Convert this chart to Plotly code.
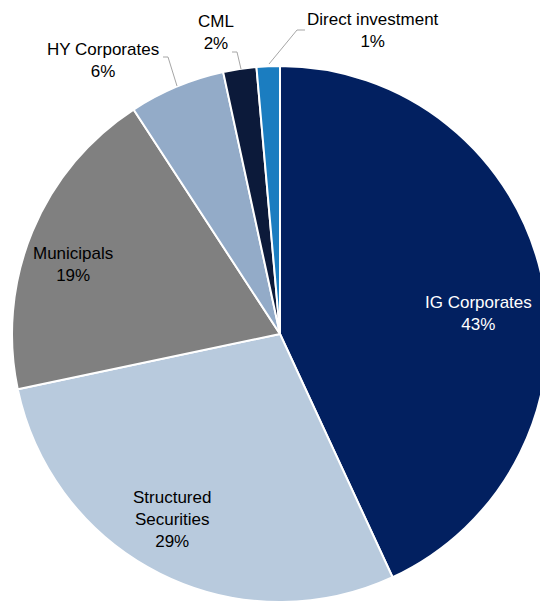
import plotly.graph_objects as go

labels = ["IG Corporates", "Structured Securities", "Municipals", "HY Corporates", "CML", "Direct investment"]
values = [43.1, 28.6, 19.1, 5.8, 2.0, 1.4]
label_lines = ["IG Corporates", "Structured<br>Securities", "Municipals", "HY Corporates", "CML", "Direct investment"]
pct_text = ["43%", "29%", "19%", "6%", "2%", "1%"]
colors = ["#022060", "#b8cadd", "#808080", "#93abc8", "#0c1a3a", "#1b7dc0"]
text_colors = ["white", "black", "black", "black", "black", "black"]

font = "Liberation Sans, Arial, sans-serif"

# page has an 8px body margin, so the figure is drawn 8px in from the top-left
W, H = 540, 594
OFF = 8

def paper(x, y):
    return (x - OFF) / W, 1 - (y - OFF) / H

fig = go.Figure(go.Pie(
    labels=labels,
    values=values,
    textinfo="none",
    marker=dict(colors=colors, line=dict(color="white", width=2)),
    sort=False,
    direction="clockwise",
    rotation=0,
    domain=dict(x=[4 / W, 1.0], y=[0, 536 / H]),
    showlegend=False,
    hoverinfo="label+percent",
))

# label centres (screen px)
label_pos = [(478, 313), (172, 519), (73, 264), (103, 60), (216, 33), (373, 31)]
for i, (x, y) in enumerate(label_pos):
    px_, py_ = paper(x, y)
    fig.add_annotation(
        x=px_, y=py_, xref="paper", yref="paper",
        text=label_lines[i] + "<br>" + pct_text[i],
        showarrow=False, xanchor="center", yanchor="middle", align="center",
        font=dict(size=17, family=font, color=text_colors[i]),
    )

# elbow leader lines for the small slices (screen px)
leaders = [
    [(163, 57), (168, 57), (177, 86)],
    [(232, 52), (237, 52), (241, 69)],
    [(305, 30), (297, 30), (269, 64)],
]
for pts in leaders:
    p = [paper(x, y) for x, y in pts]
    path = "M {} {} ".format(*p[0]) + " ".join("L {} {}".format(*q) for q in p[1:])
    fig.add_shape(type="path", path=path, xref="paper", yref="paper",
                  line=dict(color="#a6a6a6", width=1))

fig.update_layout(
    width=W, height=H,
    margin=dict(l=0, r=0, t=0, b=0),
    paper_bgcolor="white",
    plot_bgcolor="white",
    font=dict(family=font),
)

fig.write_html("out.html")
